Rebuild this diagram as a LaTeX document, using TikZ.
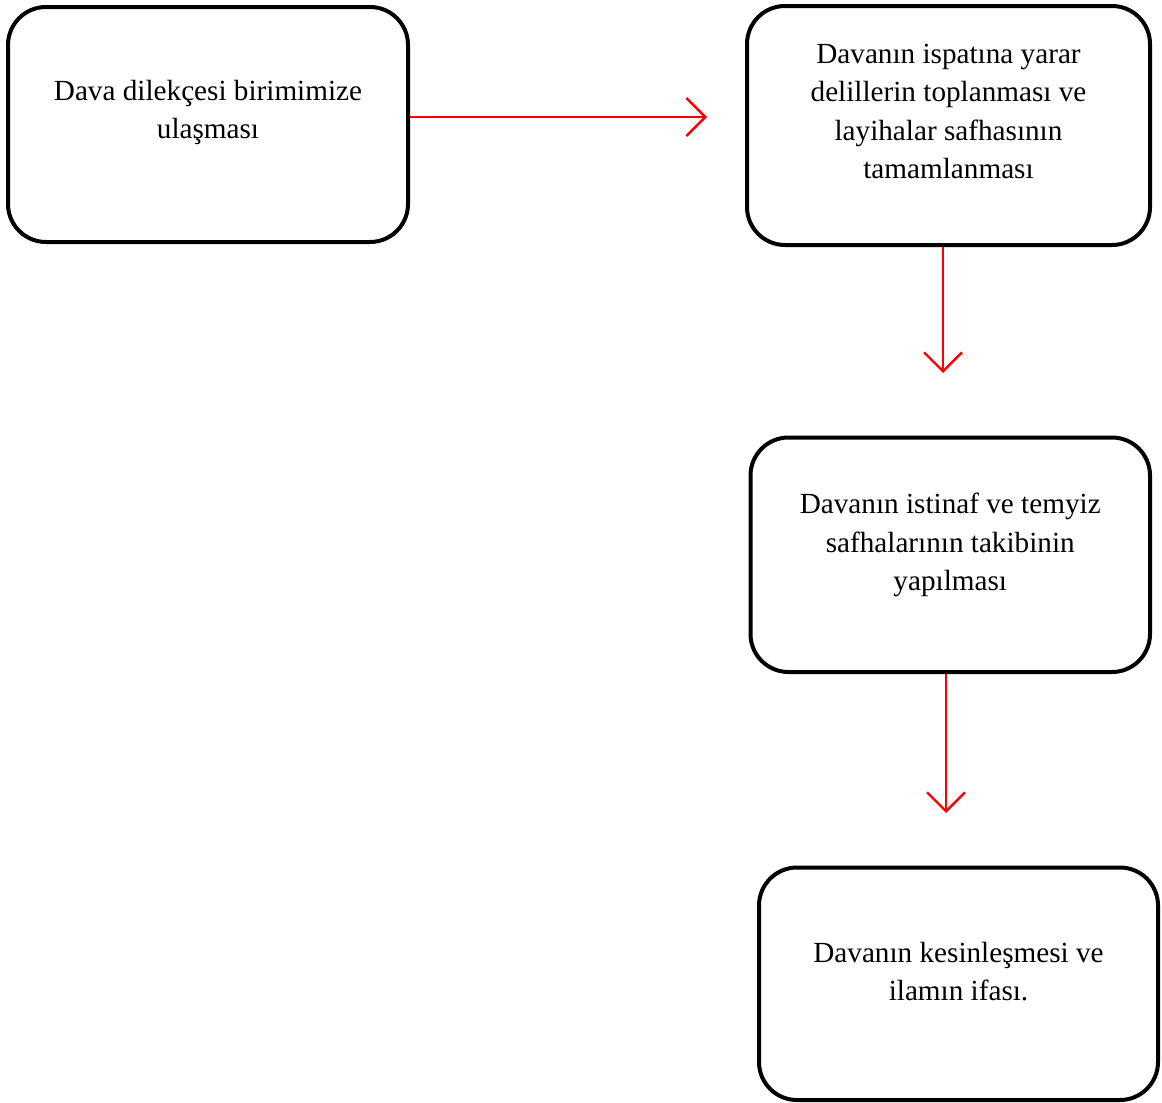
\documentclass[tikz,border=0pt]{standalone}
\usepackage{fontspec}
\setmainfont{Liberation Serif}
\usetikzlibrary{arrows.meta}

\begin{document}
\begin{tikzpicture}[x=0.5pt,y=-0.5pt,
    stepbox/.style={draw=black,line width=2pt,rounded corners=19pt,
      minimum width=200pt,minimum height=117.5pt,inner sep=0pt},
    steptext/.style={align=center,inner sep=0pt,
      font=\fontsize{14.6}{19.3}\selectfont},
    flow/.style={draw=red,line width=1.2pt,
      -{Straight Barb[length=9.5pt,width=19pt,line width=1.2pt]}}]
    \useasboundingbox (0,0) rectangle (1162,1103);
    \node [stepbox] (b1) at (208,124.5) {};
    \node [steptext] (t1) at ([yshift=6pt]b1.center)
      {Dava dilekçesi birimimize\\ulaşması};
    \node [stepbox,minimum width=201.5pt,minimum height=119.5pt] (b2) at (948.5,125.5) {};
    \node [steptext] (t2) at ([yshift=7pt]b2.center)
      {Davanın ispatına yarar\\delillerin toplanması ve\\layihalar safhasının\\tamamlanması};
    \node [stepbox,minimum width=199.75pt,minimum height=117.25pt] (b3) at (950.25,554.75) {};
    \node [steptext] (t3) at ([yshift=4.75pt]b3.center)
      {Davanın istinaf ve temyiz\\safhalarının takibinin\\yapılması};
    \node [stepbox,minimum width=199.5pt,minimum height=116.25pt] (b4) at (958.5,983.75) {};
    \node [steptext] (t4) at ([yshift=6pt]b4.center)
      {Davanın kesinleşmesi ve\\ilamın ifası.};
    \coordinate (e1) at (707,117);
    \coordinate (e2) at (943,373);
    \coordinate (e3) at (946,813);
    \draw [flow] (b1.east |- e1) -- (e1);
    \draw [flow] (e2 |- b2.south) -- (e2);
    \draw [flow] (e3 |- b3.south) -- (e3);
\end{tikzpicture}
\end{document}
